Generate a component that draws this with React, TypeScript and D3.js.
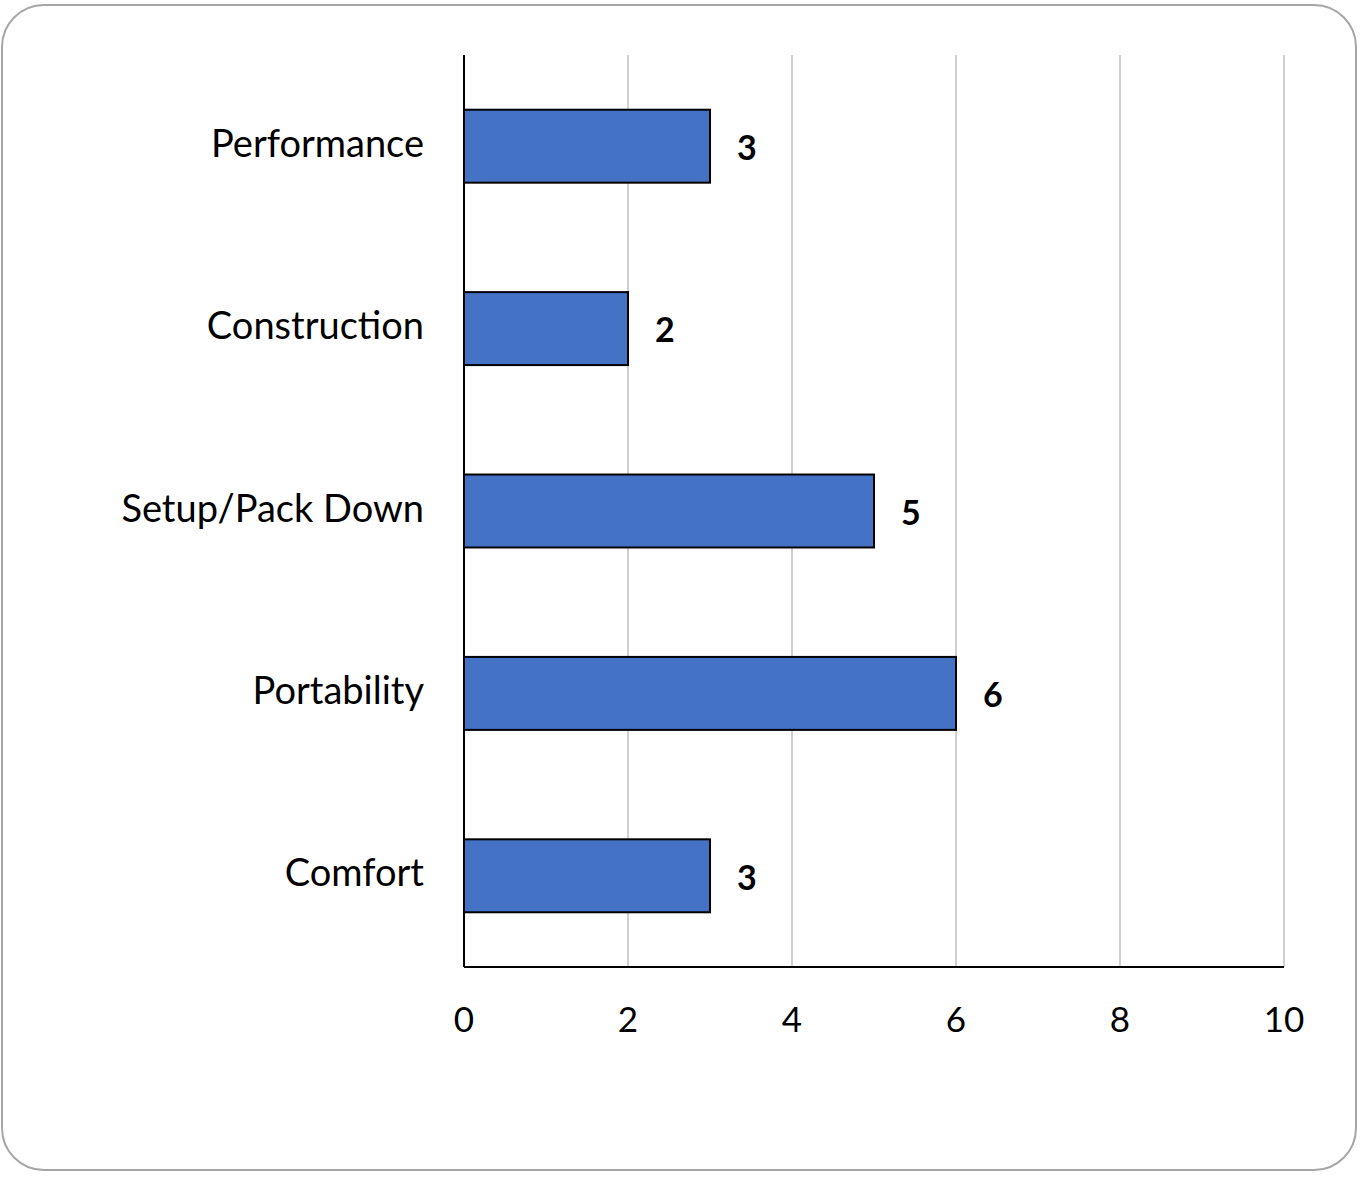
import React from "react";
import * as d3 from "d3";

const categories = ["Performance", "Construction", "Setup/Pack Down", "Portability", "Comfort"];
const values = [3, 2, 5, 6, 3];
const xTicks = [0, 2, 4, 6, 8, 10];

const W = 1361;
const H = 1177;
const margin = { left: 464, right: 77, top: 55, bottom: 210 };
const font = "Lato, 'Open Sans', sans-serif";

export default function App() {
  React.useEffect(() => {
    document.body.style.margin = "0";
  }, []);

  const x = d3.scaleLinear().domain([0, 10]).range([margin.left, W - margin.right]);
  const y = d3
    .scaleBand<string>()
    .domain(categories)
    .range([margin.top, H - margin.bottom])
    .paddingInner(0.6)
    .paddingOuter(0.3);
  const bottom = H - margin.bottom;

  return (
    <svg width={W} height={H} style={{ display: "block", background: "#fff" }}>
      <rect x={2} y={5} width={1354} height={1165} rx={42} ry={42} fill="#fff" stroke="#a6a6a6" strokeWidth={2} />
      {/* gridlines */}
      {xTicks.filter((t) => t > 0).map((t) => (
        <line key={t} x1={x(t)} x2={x(t)} y1={margin.top} y2={bottom} stroke="#d0d0d0" strokeWidth={2} />
      ))}
      {/* bars */}
      {categories.map((c, i) => (
        <g key={c}>
          <rect
            x={x(0)}
            y={y(c)}
            width={x(values[i]) - x(0)}
            height={y.bandwidth()}
            fill="#4472C4"
            stroke="#000"
            strokeWidth={2}
          />
          <text
            x={x(values[i]) + 27}
            y={(y(c) as number) + y.bandwidth() / 2 + 5}
            dominantBaseline="middle"
            fontFamily={font}
            fontWeight={700}
            fontSize={34}
            fill="#000"
          >
            {values[i]}
          </text>
          <text
            x={x(0) - 40}
            y={(y(c) as number) + y.bandwidth() / 2 + 1}
            dominantBaseline="middle"
            textAnchor="end"
            fontFamily={font}
            fontSize={38}
            fill="#000"
          >
            {c}
          </text>
        </g>
      ))}
      {/* axes */}
      <line x1={x(0)} x2={x(0)} y1={margin.top} y2={bottom} stroke="#000" strokeWidth={2} />
      <line x1={x(0)} x2={x(10)} y1={bottom} y2={bottom} stroke="#000" strokeWidth={2} />
      {xTicks.map((t) => (
        <text
          key={t}
          x={x(t)}
          y={bottom + 56}
          dominantBaseline="middle"
          textAnchor="middle"
          fontFamily={font}
          fontSize={35}
          fill="#000"
        >
          {t}
        </text>
      ))}
    </svg>
  );
}
